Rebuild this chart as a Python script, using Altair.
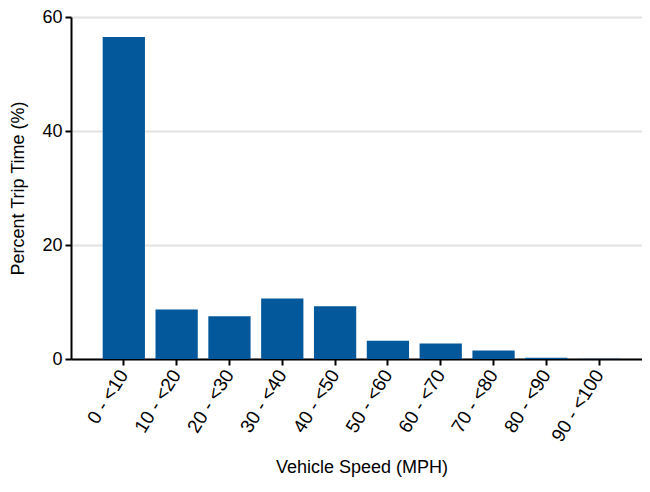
import altair as alt
import pandas as pd

categories = ["0 - <10", "10 - <20", "20 - <30", "30 - <40", "40 - <50",
              "50 - <60", "60 - <70", "70 - <80", "80 - <90", "90 - <100"]
percent = [56.5, 8.7, 7.5, 10.6, 9.25, 3.2, 2.7, 1.5, 0.2, 0.03]

df = pd.DataFrame({"speed": categories, "pct": percent})

FONT = "Liberation Sans"

chart = alt.Chart(df).mark_bar(color="#03589B").encode(
    x=alt.X("speed:N", sort=categories,
            scale=alt.Scale(paddingInner=0.2, paddingOuter=0.6, range=[0, 581]),
            axis=alt.Axis(title="Vehicle Speed (MPH)", labelAngle=302,
                          labelAlign="right", labelBaseline="middle",
                          labelFontSize=19, titleFontSize=18,
                          labelFont=FONT, titleFont=FONT,
                          labelColor="#000", titleColor="#000",
                          titleFontWeight="normal",
                          domainColor="#000", domainWidth=2,
                          tickColor="#000", tickWidth=2, tickSize=6,
                          labelPadding=6, titlePadding=14)),
    y=alt.Y("pct:Q", scale=alt.Scale(domain=[0, 60], nice=False),
            axis=alt.Axis(title="Percent Trip Time (%)", values=[0, 20, 40, 60],
                          labelFontSize=18, titleFontSize=18,
                          labelFont=FONT, titleFont=FONT,
                          labelColor="#000", titleColor="#000",
                          titleFontWeight="normal",
                          domainColor="#000", domainWidth=2,
                          tickColor="#000", tickWidth=2, tickSize=6,
                          labelPadding=3, titlePadding=14,
                          gridColor="#e2e2e2", gridWidth=2)),
).properties(
    width=571, height=342,
    autosize=alt.AutoSizeParams(type="none"),
    padding={"left": 63, "top": 9, "right": 0, "bottom": 119},
).configure_view(stroke=None)

chart.save("out.html", embed_options={"renderer": "svg", "actions": False})
